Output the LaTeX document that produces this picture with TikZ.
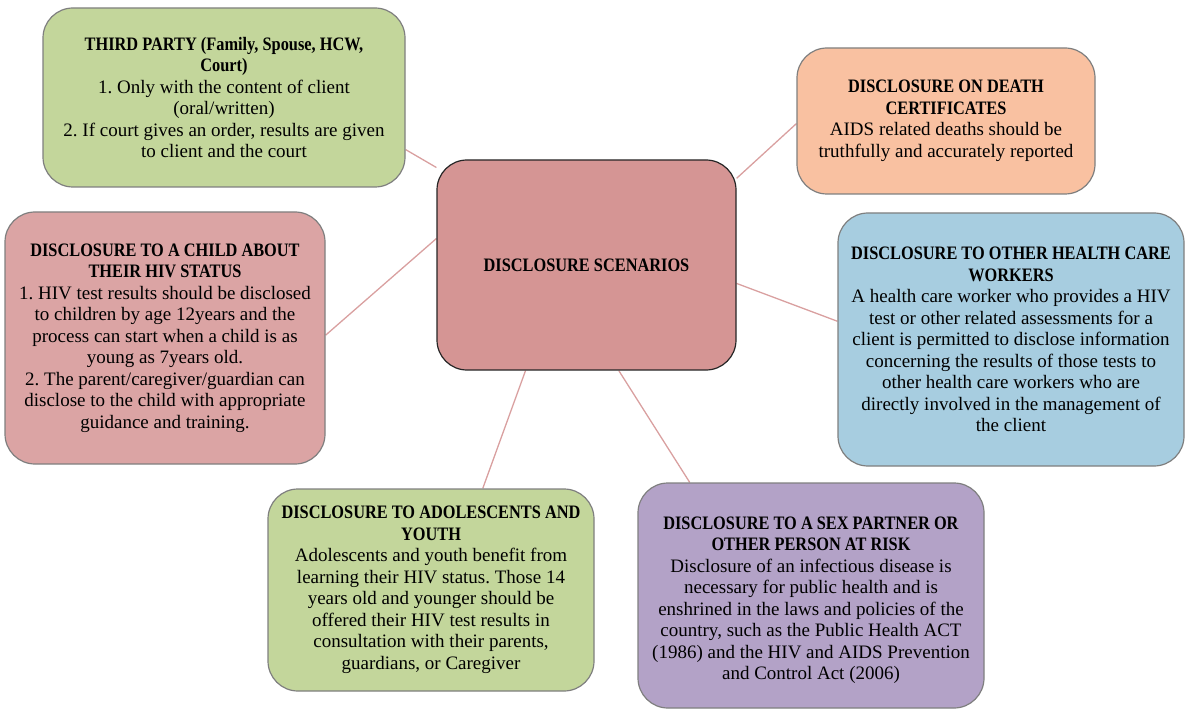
\documentclass[tikz,border=0pt]{standalone}
\usepackage{fontspec}
\setmainfont{Liberation Serif}[BoldFeatures={FakeStretch=0.86}]
\usetikzlibrary{backgrounds}
\frenchspacing

\definecolor{boxline}{HTML}{7F7F7F}
\definecolor{linkcol}{HTML}{D9A0A0}
\definecolor{fillgreen}{HTML}{C3D69B}
\definecolor{fillpeach}{HTML}{F9C1A1}
\definecolor{fillhub}{HTML}{D59594}
\definecolor{fillrose}{HTML}{DBA4A4}
\definecolor{fillblue}{HTML}{A7CDE0}
\definecolor{fillviolet}{HTML}{B3A2C7}

\tikzset{
  box/.style={draw=boxline, line width=1.2pt, rounded corners=30pt,
    align=center, inner sep=0pt, font=\fontsize{19}{21.5}\selectfont},
  hub/.style={box, draw=black!85},
  link/.style={draw=linkcol, line width=1.3pt}
}

\begin{document}
\begin{tikzpicture}[x=1pt, y=-1pt]
\useasboundingbox (0,0) rectangle (1188,711);

% central topic
\node[hub, fill=fillhub, minimum width=299pt, minimum height=210pt] (c) at (586.5,265)
  {\textbf{DISCLOSURE SCENARIOS}};

% surrounding scenarios
\node[box, fill=fillgreen, minimum width=362pt, minimum height=179pt] (tp) at (224,97.5)
  {\textbf{THIRD PARTY (Family, Spouse, HCW,}\\
   \textbf{Court)}\\
   1. Only with the content of client\\
   (oral/written)\\
   2. If court gives an order, results are given\\
   to client and the court};

\node[box, fill=fillpeach, minimum width=298pt, minimum height=146pt] (dc) at (946,121)
  {\textbf{DISCLOSURE ON DEATH}\\
   \textbf{CERTIFICATES}\\
   AIDS related deaths should be\\
   truthfully and accurately reported};

\node[box, fill=fillrose, minimum width=320pt, minimum height=252pt] (ch) at (165,338)
  {\textbf{DISCLOSURE TO A CHILD ABOUT}\\
   \textbf{THEIR HIV STATUS}\\
   1. HIV test results should be disclosed\\
   to children by age 12years and the\\
   process can start when a child is as\\
   young as 7years old.\\
   2. The parent/caregiver/guardian can\\
   disclose to the child with appropriate\\
   guidance and training.};

\node[box, fill=fillblue, minimum width=346pt, minimum height=253pt] (hcw) at (1011,339.5)
  {\textbf{DISCLOSURE TO OTHER HEALTH CARE}\\
   \textbf{WORKERS}\\
   A health care worker who provides a HIV\\
   test or other related assessments for a\\
   client is permitted to disclose information\\
   concerning the results of those tests to\\
   other health care workers who are\\
   directly involved in the management of\\
   the client};

\node[box, fill=fillgreen, minimum width=326pt, minimum height=202pt] (ad) at (431,590)
  {\textbf{DISCLOSURE TO ADOLESCENTS AND}\\
   \textbf{YOUTH}\\
   Adolescents and youth benefit from\\
   learning their HIV status. Those 14\\
   years old and younger should be\\
   offered their HIV test results in\\
   consultation with their parents,\\
   guardians, or Caregiver};

\node[box, fill=fillviolet, minimum width=346pt, minimum height=225pt] (sp) at (811,595.5)
  {\rule{0pt}{22pt}\textbf{DISCLOSURE TO A SEX PARTNER OR}\\
   \textbf{OTHER PERSON AT RISK}\\
   Disclosure of an infectious disease is\\
   necessary for public health and is\\
   enshrined in the laws and policies of the\\
   country, such as the Public Health ACT\\
   (1986) and the HIV and AIDS Prevention\\
   and Control Act (2006)};

% connectors behind the boxes
\begin{scope}[on background layer]
  \draw[link] (tp.-16) -- (c.147);
  \draw[link] (dc.181) -- (c.30);
  \draw[link] (ch.1) -- (c.170);
  \draw[link] (hcw.174) -- (c.-7);
  \draw[link] (ad.63) -- (c.240);
  \draw[link] (sp.137) -- (c.-73);
\end{scope}
\end{tikzpicture}
\end{document}
